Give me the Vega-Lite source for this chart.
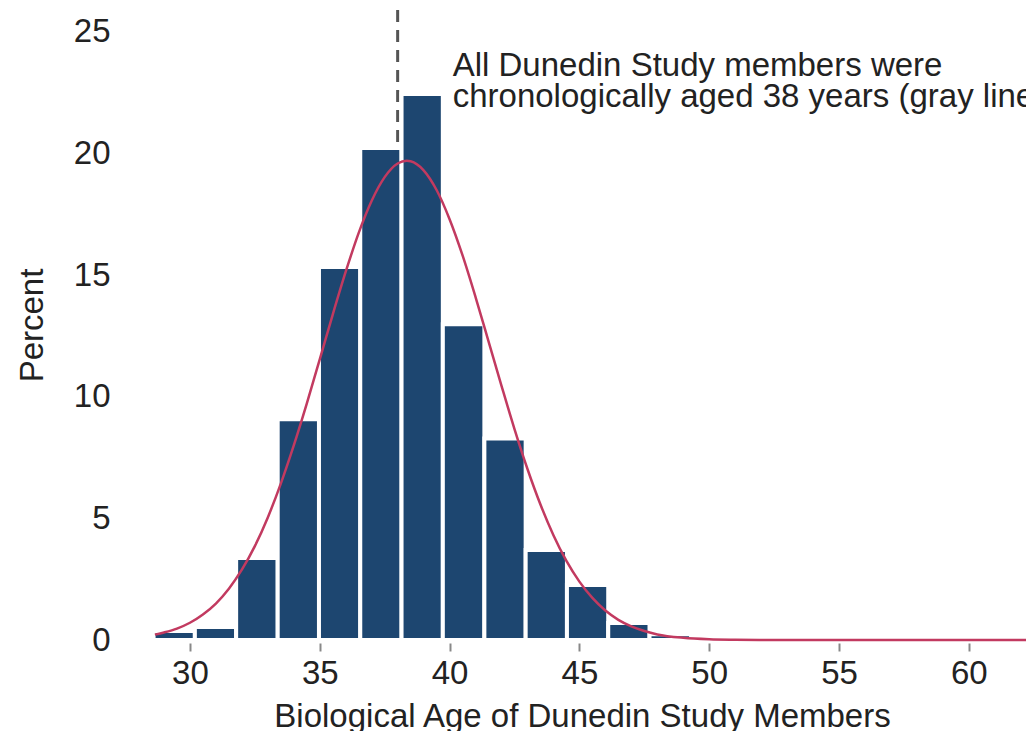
{
  "$schema": "https://vega.github.io/schema/vega-lite/v6.json",
  "autosize": {"type": "none"},
  "width": 888,
  "height": 630,
  "padding": {"left": 138, "top": 10, "right": 0, "bottom": 91},
  "background": "white",
  "config": {
    "view": {"stroke": null},
    "font": "Liberation Sans",
    "axis": {"labelFont": "Liberation Sans", "titleFont": "Liberation Sans", "labelColor": "#222", "titleColor": "#222", "grid": false, "domain": false}
  },
  "datasets": {
    "bins": [
      {"start": 28.6, "end": 30.19, "percent": 0.37},
      {"start": 30.19, "end": 31.78, "percent": 0.53},
      {"start": 31.78, "end": 33.38, "percent": 3.37},
      {"start": 33.38, "end": 34.97, "percent": 9.08},
      {"start": 34.97, "end": 36.56, "percent": 15.33},
      {"start": 36.56, "end": 38.15, "percent": 20.23},
      {"start": 38.15, "end": 39.74, "percent": 22.45},
      {"start": 39.74, "end": 41.34, "percent": 12.98},
      {"start": 41.34, "end": 42.93, "percent": 8.28},
      {"start": 42.93, "end": 44.52, "percent": 3.7},
      {"start": 44.52, "end": 46.11, "percent": 2.26},
      {"start": 46.11, "end": 47.7, "percent": 0.7},
      {"start": 47.7, "end": 49.3, "percent": 0.24}
    ],
    "curve": [
      {"age": 28.65, "percent": 0.22},
      {"age": 29, "percent": 0.31},
      {"age": 29.5, "percent": 0.47},
      {"age": 30, "percent": 0.71},
      {"age": 30.5, "percent": 1.05},
      {"age": 31, "percent": 1.5},
      {"age": 31.5, "percent": 2.11},
      {"age": 32, "percent": 2.89},
      {"age": 32.5, "percent": 3.86},
      {"age": 33, "percent": 5.04},
      {"age": 33.5, "percent": 6.43},
      {"age": 34, "percent": 8.0},
      {"age": 34.5, "percent": 9.72},
      {"age": 35, "percent": 11.54},
      {"age": 35.5, "percent": 13.38},
      {"age": 36, "percent": 15.14},
      {"age": 36.5, "percent": 16.74},
      {"age": 37, "percent": 18.06},
      {"age": 37.5, "percent": 19.03},
      {"age": 38, "percent": 19.59},
      {"age": 38.35, "percent": 19.7},
      {"age": 38.5, "percent": 19.68},
      {"age": 39, "percent": 19.31},
      {"age": 39.5, "percent": 18.5},
      {"age": 40, "percent": 17.3},
      {"age": 40.5, "percent": 15.81},
      {"age": 41, "percent": 14.1},
      {"age": 41.5, "percent": 12.28},
      {"age": 42, "percent": 10.45},
      {"age": 42.5, "percent": 8.67},
      {"age": 43, "percent": 7.03},
      {"age": 43.5, "percent": 5.57},
      {"age": 44, "percent": 4.31},
      {"age": 44.5, "percent": 3.25},
      {"age": 45, "percent": 2.4},
      {"age": 45.5, "percent": 1.73},
      {"age": 46, "percent": 1.21},
      {"age": 46.5, "percent": 0.83},
      {"age": 47, "percent": 0.56},
      {"age": 47.5, "percent": 0.37},
      {"age": 48, "percent": 0.23},
      {"age": 49, "percent": 0.09},
      {"age": 50, "percent": 0.03},
      {"age": 51, "percent": 0.01},
      {"age": 52, "percent": 0.003},
      {"age": 54, "percent": 0.0},
      {"age": 58, "percent": 0.0},
      {"age": 62.2, "percent": 0.0}
    ],
    "ref": [{"age": 38}],
    "note": [{"age": 40.12, "percent": 23.17, "label": ["All Dunedin Study members were", "chronologically aged 38 years (gray line)"]}]
  },
  "layer": [
    {
      "data": {"name": "ref"},
      "mark": {"type": "rule", "color": "#555555", "strokeWidth": 3, "strokeDash": [12, 8]},
      "encoding": {
        "x": {"field": "age", "type": "quantitative", "scale": {"domain": [28, 62.2], "nice": false, "zero": false}}
      }
    },
    {
      "data": {"name": "bins"},
      "mark": {"type": "rect", "color": "#1d4670", "stroke": "white", "strokeWidth": 4},
      "encoding": {
        "x": {"field": "start", "type": "quantitative", "scale": {"domain": [28, 62.2], "nice": false, "zero": false},
          "axis": {"values": [30, 35, 40, 45, 50, 55, 60], "offset": 3, "tickSize": 8, "tickWidth": 2, "tickColor": "#888888", "labelFontSize": 33, "labelPadding": 6, "title": "Biological Age of Dunedin Study Members", "titleFontSize": 33, "titleFontWeight": "normal", "titlePadding": 10}},
        "x2": {"field": "end"},
        "y": {"field": "percent", "type": "quantitative", "scale": {"domain": [0, 25.9], "nice": false},
          "axis": {"values": [0, 5, 10, 15, 20, 25], "ticks": false, "labelPadding": 28, "labelFontSize": 33, "title": "Percent", "titleFontSize": 33, "titleFontWeight": "normal", "titlePadding": 24}},
        "y2": {"datum": 0}
      }
    },
    {
      "data": {"name": "curve"},
      "mark": {"type": "line", "color": "#c23a60", "strokeWidth": 2.5, "interpolate": "monotone"},
      "encoding": {
        "x": {"field": "age", "type": "quantitative"},
        "y": {"field": "percent", "type": "quantitative"}
      }
    },
    {
      "data": {"name": "note"},
      "mark": {"type": "text", "align": "left", "baseline": "alphabetic", "fontSize": 33, "lineHeight": 31, "color": "#222222", "font": "Liberation Sans"},
      "encoding": {
        "x": {"field": "age", "type": "quantitative"},
        "y": {"field": "percent", "type": "quantitative"},
        "text": {"field": "label"}
      }
    }
  ]
}
